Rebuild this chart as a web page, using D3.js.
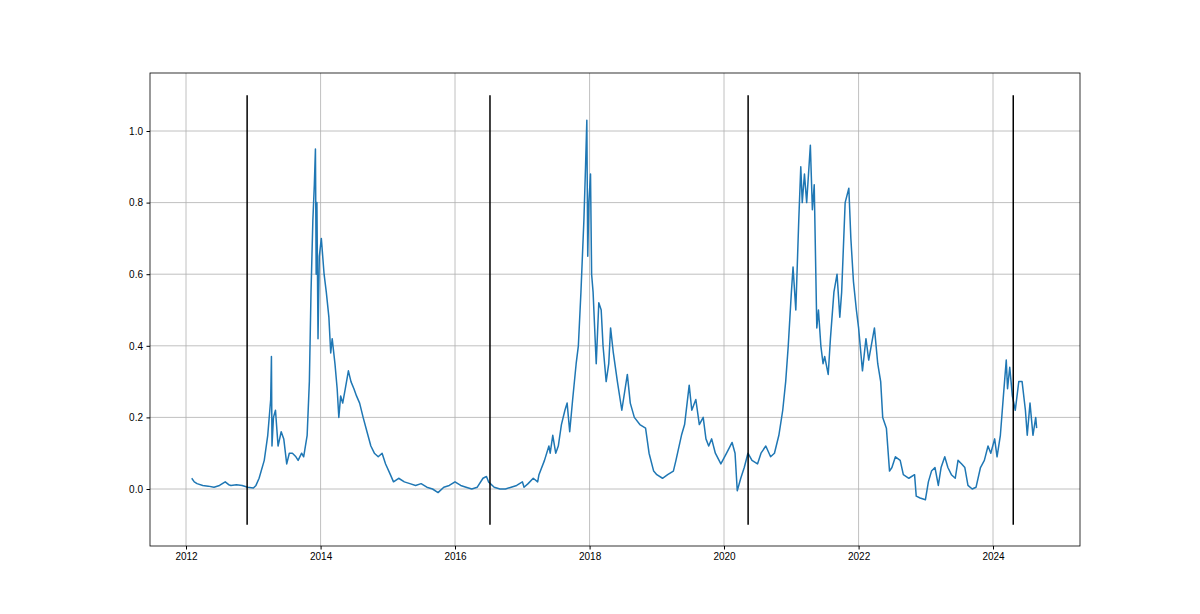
<!DOCTYPE html>
<html>
<head>
<meta charset="utf-8">
<script src="https://cdn.jsdelivr.net/npm/d3@7"></script>
<style>
  html, body { margin: 0; padding: 0; background: #fff; }
  svg { font-family: "DejaVu Sans", sans-serif; }
  .tick text { font-size: 10px; fill: #000; }
</style>
</head>
<body>
<svg id="chart" width="1200" height="614"></svg>
<script>
// ratio series
var dates = ["2012-02-01","2012-02-15","2012-03-01","2012-04-01","2012-05-01","2012-06-01","2012-07-01","2012-08-01","2012-08-20","2012-09-01","2012-10-01","2012-11-01","2012-12-01","2013-01-01","2013-01-15","2013-02-01","2013-03-01","2013-03-20","2013-04-05","2013-04-09","2013-04-12","2013-04-20","2013-05-01","2013-05-15","2013-06-01","2013-06-15","2013-07-01","2013-07-15","2013-08-01","2013-08-20","2013-09-01","2013-09-20","2013-10-01","2013-10-20","2013-11-01","2013-11-10","2013-11-20","2013-11-28","2013-12-04","2013-12-08","2013-12-12","2013-12-18","2013-12-25","2014-01-05","2014-01-20","2014-02-01","2014-02-15","2014-02-25","2014-03-05","2014-03-20","2014-04-01","2014-04-10","2014-04-20","2014-05-01","2014-05-15","2014-06-01","2014-06-15","2014-07-01","2014-07-15","2014-08-01","2014-08-20","2014-09-10","2014-10-01","2014-10-20","2014-11-10","2014-12-01","2014-12-20","2015-01-15","2015-02-01","2015-03-01","2015-04-01","2015-05-01","2015-06-01","2015-07-01","2015-08-01","2015-09-01","2015-10-01","2015-11-01","2015-12-01","2016-01-01","2016-02-01","2016-03-01","2016-04-01","2016-05-01","2016-06-01","2016-06-20","2016-07-01","2016-08-01","2016-09-01","2016-10-01","2016-11-01","2016-12-01","2017-01-01","2017-01-10","2017-02-01","2017-03-01","2017-03-25","2017-04-01","2017-05-01","2017-05-25","2017-06-01","2017-06-15","2017-07-01","2017-07-15","2017-08-01","2017-08-20","2017-09-01","2017-09-15","2017-10-01","2017-10-20","2017-11-01","2017-11-15","2017-12-01","2017-12-10","2017-12-17","2017-12-22","2017-12-28","2018-01-06","2018-01-12","2018-01-20","2018-02-06","2018-02-20","2018-03-05","2018-03-15","2018-04-01","2018-04-15","2018-04-25","2018-05-10","2018-06-01","2018-06-25","2018-07-25","2018-08-10","2018-09-01","2018-10-01","2018-11-01","2018-11-20","2018-12-15","2019-01-01","2019-02-01","2019-03-01","2019-04-01","2019-04-15","2019-05-15","2019-06-01","2019-06-26","2019-07-10","2019-08-01","2019-08-20","2019-09-10","2019-09-25","2019-10-10","2019-10-26","2019-11-15","2019-12-15","2020-01-15","2020-02-14","2020-03-01","2020-03-13","2020-04-01","2020-04-20","2020-05-10","2020-06-01","2020-07-01","2020-07-20","2020-08-15","2020-09-10","2020-10-01","2020-10-25","2020-11-15","2020-12-01","2020-12-15","2021-01-01","2021-01-10","2021-01-25","2021-02-10","2021-02-21","2021-03-01","2021-03-13","2021-03-25","2021-04-14","2021-04-25","2021-05-05","2021-05-19","2021-05-28","2021-06-10","2021-06-22","2021-07-01","2021-07-20","2021-08-01","2021-08-20","2021-09-06","2021-09-21","2021-10-01","2021-10-20","2021-11-09","2021-11-20","2021-12-04","2021-12-20","2022-01-01","2022-01-22","2022-02-10","2022-02-25","2022-03-28","2022-04-15","2022-05-01","2022-05-12","2022-06-01","2022-06-18","2022-07-01","2022-07-20","2022-08-15","2022-09-01","2022-10-01","2022-11-01","2022-11-10","2022-12-01","2022-12-30","2023-01-15","2023-02-01","2023-02-20","2023-03-10","2023-03-25","2023-04-14","2023-05-01","2023-05-20","2023-06-10","2023-06-25","2023-07-15","2023-08-01","2023-08-18","2023-09-10","2023-10-01","2023-10-25","2023-11-15","2023-12-05","2023-12-20","2024-01-10","2024-01-23","2024-02-10","2024-02-28","2024-03-13","2024-03-20","2024-04-01","2024-04-15","2024-05-01","2024-05-20","2024-06-07","2024-06-25","2024-07-05","2024-07-20","2024-08-05","2024-08-20","2024-08-25"];
var values = [0.03,0.02,0.015,0.01,0.008,0.005,0.01,0.02,0.012,0.01,0.012,0.01,0.005,0.003,0.01,0.03,0.08,0.15,0.25,0.37,0.12,0.2,0.22,0.12,0.16,0.14,0.07,0.1,0.1,0.09,0.08,0.1,0.09,0.15,0.3,0.55,0.75,0.85,0.95,0.6,0.8,0.42,0.65,0.7,0.6,0.55,0.48,0.38,0.42,0.35,0.28,0.2,0.26,0.24,0.28,0.33,0.3,0.28,0.26,0.24,0.2,0.16,0.12,0.1,0.09,0.1,0.07,0.04,0.02,0.03,0.02,0.015,0.01,0.015,0.005,0.0,-0.01,0.005,0.01,0.02,0.01,0.005,0.0,0.005,0.03,0.035,0.02,0.005,0.0,0.0,0.005,0.01,0.02,0.005,0.015,0.03,0.02,0.04,0.08,0.12,0.1,0.15,0.1,0.12,0.18,0.22,0.24,0.16,0.25,0.35,0.4,0.55,0.75,0.9,1.03,0.65,0.8,0.88,0.6,0.55,0.35,0.52,0.5,0.4,0.3,0.35,0.45,0.38,0.3,0.22,0.32,0.24,0.2,0.18,0.17,0.1,0.05,0.04,0.03,0.04,0.05,0.08,0.15,0.18,0.29,0.22,0.25,0.18,0.2,0.14,0.12,0.14,0.1,0.07,0.1,0.13,0.1,-0.005,0.03,0.06,0.1,0.08,0.07,0.1,0.12,0.09,0.1,0.15,0.22,0.3,0.4,0.55,0.62,0.5,0.75,0.9,0.8,0.88,0.8,0.96,0.78,0.85,0.45,0.5,0.4,0.35,0.37,0.32,0.42,0.55,0.6,0.48,0.55,0.8,0.84,0.7,0.58,0.5,0.45,0.33,0.42,0.36,0.45,0.35,0.3,0.2,0.17,0.05,0.06,0.09,0.08,0.04,0.03,0.04,-0.02,-0.025,-0.03,0.02,0.05,0.06,0.01,0.06,0.09,0.06,0.04,0.03,0.08,0.07,0.06,0.01,0.0,0.005,0.06,0.08,0.12,0.1,0.14,0.09,0.15,0.27,0.36,0.28,0.34,0.26,0.22,0.3,0.3,0.22,0.15,0.24,0.15,0.2,0.17];
var halvings = ["2012-11-28","2016-07-09","2020-05-11","2024-04-20"];
var yTicks = [0.0, 0.2, 0.4, 0.6, 0.8, 1.0];
var xTickYears = [2012, 2014, 2016, 2018, 2020, 2022, 2024];

(function() {
    var parse = d3.timeParse("%Y-%m-%d");
    var data = dates.map(function(d, i) { return { date: parse(d), value: values[i] }; });

    // plot frame, in pixels
    var frameL = 150, frameR = 1080, frameT = 73, frameB = 546;
    var svg = d3.select("#chart");

    var x = d3.scaleTime()
        .domain([new Date(2012, 0, 1), new Date(2024, 0, 1)])
        .range([186, 993]);
    var y = d3.scaleLinear().domain([0, 1]).range([489, 131]);

    // grid
    var xTicks = xTickYears.map(function(yr) { return new Date(yr, 0, 1); });
    svg.append("g").selectAll("line").data(xTicks).enter().append("line")
        .attr("x1", x).attr("x2", x).attr("y1", frameT).attr("y2", frameB)
        .attr("stroke", "#b0b0b0").attr("stroke-width", 0.8);
    svg.append("g").selectAll("line").data(yTicks).enter().append("line")
        .attr("x1", frameL).attr("x2", frameR).attr("y1", y).attr("y2", y)
        .attr("stroke", "#b0b0b0").attr("stroke-width", 0.8);

    // series
    svg.append("path").datum(data)
        .attr("fill", "none").attr("stroke", "#1f77b4").attr("stroke-width", 1.5)
        .attr("stroke-linejoin", "round")
        .attr("d", d3.line().x(function(d) { return x(d.date); }).y(function(d) { return y(d.value); }));

    // halving lines
    svg.append("g").selectAll("line").data(halvings).enter().append("line")
        .attr("x1", function(d) { return x(parse(d)); }).attr("x2", function(d) { return x(parse(d)); })
        .attr("y1", y(-0.1)).attr("y2", y(1.1))
        .attr("stroke", "#000").attr("stroke-width", 1.5);

    // axes
    var xAxis = d3.axisBottom(x).tickValues(xTicks).tickFormat(d3.timeFormat("%Y")).tickSize(3.5).tickPadding(3.5);
    svg.append("g").attr("transform", "translate(0," + frameB + ")").call(xAxis)
        .call(function(g) { g.select(".domain").remove(); });
    var yAxis = d3.axisLeft(y).tickValues(yTicks).tickFormat(d3.format(".1f")).tickSize(3.5).tickPadding(3.5);
    svg.append("g").attr("transform", "translate(" + frameL + ",0)").call(yAxis)
        .call(function(g) { g.select(".domain").remove(); });

    svg.append("rect").attr("x", frameL).attr("y", frameT)
        .attr("width", frameR - frameL).attr("height", frameB - frameT)
        .attr("fill", "none").attr("stroke", "#000").attr("stroke-width", 0.8);
})();
</script>
</body>
</html>
